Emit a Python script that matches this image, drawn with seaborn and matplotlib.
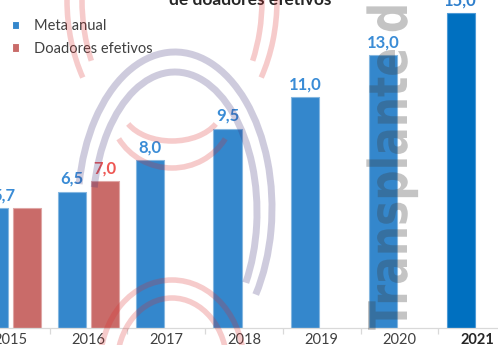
import numpy as np
import pandas as pd
import matplotlib
matplotlib.use('Agg')
import matplotlib.pyplot as plt
import seaborn as sns
from matplotlib.patches import Arc, PathPatch
from matplotlib.colors import to_rgb
from matplotlib.textpath import TextPath
from matplotlib.font_manager import FontProperties
from matplotlib.transforms import Affine2D

# ---- data ----
years = ['2015', '2016', '2017', '2018', '2019', '2020', '2021']
meta_anual = [5.7, 6.5, 8.0, 9.5, 11.0, 13.0, 15.0]
doadores_efetivos = [5.7, 7.0, np.nan, np.nan, np.nan, np.nan, np.nan]
meta_labels = ['5,7', '6,5', '8,0', '9,5', '11,0', '13,0', '15,0']
doadores_labels = ['', '7,0', '', '', '', '', '']
series = ['Meta anual', 'Doadores efetivos']
title_text = 'de doadores efetivos'
watermark_text = 'Transplante d'

df = pd.DataFrame({
    'Ano': years * 2,
    'Valor': meta_anual + doadores_efetivos,
    'Serie': [series[0]] * len(years) + [series[1]] * len(years),
})

sns.set_theme(style='white')
plt.rcParams['font.family'] = ['Lato', 'DejaVu Sans']

W, H = 498, 345
fig = plt.figure(figsize=(W / 100, H / 100), dpi=100)
ax = fig.add_axes([-28 / W, 17 / H, 544 / W, 328 / H])

blue = '#3487CC'
red = '#C96B69'
dark_blue = '#0070C0'

sns.barplot(data=df, x='Ano', y='Valor', hue='Serie', palette=[blue, red],
            width=0.85, gap=0.15, errorbar=None, ax=ax, legend=True,
            linewidth=0.8, saturation=1)

# bar edges: lighter outline
for cont in ax.containers:
    for p in cont:
        fc = np.array(to_rgb(p.get_facecolor()))
        p.set_edgecolor(tuple(fc + (1 - fc) * 0.4))
ax.containers[0][len(years) - 1].set_facecolor(dark_blue)
ax.containers[0][len(years) - 1].set_edgecolor('#4D9AD6')

ax.set_xlim(-0.5, len(years) - 0.5)
ax.set_ylim(0, 328 / 21)
ax.set_xlabel('')
ax.set_ylabel('')
ax.set_yticks([])
for s in ['left', 'top', 'right']:
    ax.spines[s].set_visible(False)
ax.spines['bottom'].set_color('#D9D9D9')
ax.spines['bottom'].set_linewidth(0.9)
ax.tick_params(axis='x', which='major', length=0, pad=3.5, labelsize=10.5, labelcolor='#404040')
ax.set_xticks(np.arange(-0.5, len(years), 1), minor=True)
ax.tick_params(axis='x', which='minor', bottom=True, length=4, width=0.9, color='#D9D9D9')
ax.get_xticklabels()[-1].set_fontweight('bold')
ax.get_xticklabels()[-1].set_color('#262626')

# value labels
cont_m = ax.containers[0]
lab_m = meta_labels[:len(cont_m)]
tm = ax.bar_label(cont_m, labels=lab_m, padding=3.5, color='#3A8CD6',
                  fontsize=12, fontweight='bold')
tm[0].xyann = (7, tm[0].xyann[1])
tm[-1].set_color('#2F7FCC')
if len(ax.containers) > 1:
    cont_d = ax.containers[1]
    lab_d = [l for l, v in zip(doadores_labels, doadores_efetivos) if not np.isnan(v)]
    if len(lab_d) != len(cont_d):
        lab_d = doadores_labels[:len(cont_d)]
    ax.bar_label(cont_d, labels=lab_d, padding=3.5, color='#EE5753',
                 fontsize=12, fontweight='bold')

# legend
h, l = ax.get_legend_handles_labels()
ax.legend(h, l, loc='upper left', bbox_to_anchor=(6 / W, 1 - 13 / H),
          bbox_transform=fig.transFigure, frameon=False, fontsize=10.5,
          handlelength=0.5, handleheight=0.5, handletextpad=1.0,
          labelspacing=0.6, labelcolor='#404040', borderaxespad=0)

# title (cut at top)
fig.text(250 / W, 1 - 5 / H, title_text, ha='center', va='baseline',
         fontsize=12.5, fontweight='bold', color='#262626')

# ---- watermark overlay ----
ov = fig.add_axes([0, 0, 1, 1], zorder=5)
ov.set_xlim(0, W)
ov.set_ylim(H, 0)
ov.axis('off')
ov.patch.set_alpha(0)

redw = dict(color=(0.86, 0.16, 0.16), alpha=0.24, lw=4.0)
purw = dict(color=(0.24, 0.2, 0.48), alpha=0.25, lw=5.0)

# top red strokes (sides of a large ring)
ov.add_patch(Arc((172, 0), 210, 294, theta1=139, theta2=180, **redw))
ov.add_patch(Arc((172, 0), 210, 294, theta1=0, theta2=41, **redw))
ov.add_patch(Arc((172, 0), 180, 274, theta1=143, theta2=180, **redw))
ov.add_patch(Arc((172, 0), 180, 274, theta1=0, theta2=37, **redw))
# middle red U
ov.add_patch(Arc((172, 108), 100, 66, theta1=20, theta2=160, **redw))
ov.add_patch(Arc((172, 108), 124, 120, theta1=30, theta2=150, **redw))
# purple arches
ov.add_patch(Arc((175, 208), 194, 312, theta1=194, theta2=47, **purw))
ov.add_patch(Arc((175, 212), 164, 280, theta1=197, theta2=45, **purw))
# bottom red arches
ov.add_patch(Arc((172, 365), 144, 170, theta1=180, theta2=360, **redw))
ov.add_patch(Arc((172, 365), 110, 134, theta1=180, theta2=360, **redw))

# vertical watermark text (bold, slightly condensed)
fp = FontProperties(family='DejaVu Sans', weight='bold')
size = 100.0
word_path = TextPath((0, 0), watermark_text.split()[0], size=size, prop=fp)
wb = word_path.get_extents()
full_path = TextPath((0, 0), watermark_text, size=size, prop=fp)
cap_h = TextPath((0, 0), 'T', size=size, prop=fp).get_extents().y1
su = 280.0 / wb.x1          # length of the word along the baseline
sv = 39.0 / cap_h           # cap height
x0, y0 = 407.0, 330.0       # baseline start (pixels, y down)
tr = Affine2D().scale(su, sv) + Affine2D(np.array([[0.0, -1.0, x0],
                                                    [-1.0, 0.0, y0],
                                                    [0.0, 0.0, 1.0]]))
wm_path = tr.transform_path(full_path)
ov.add_patch(PathPatch(wm_path, facecolor=(0.24, 0.24, 0.24), edgecolor='none',
                       alpha=0.3))

fig.savefig('out.png', dpi=100)
